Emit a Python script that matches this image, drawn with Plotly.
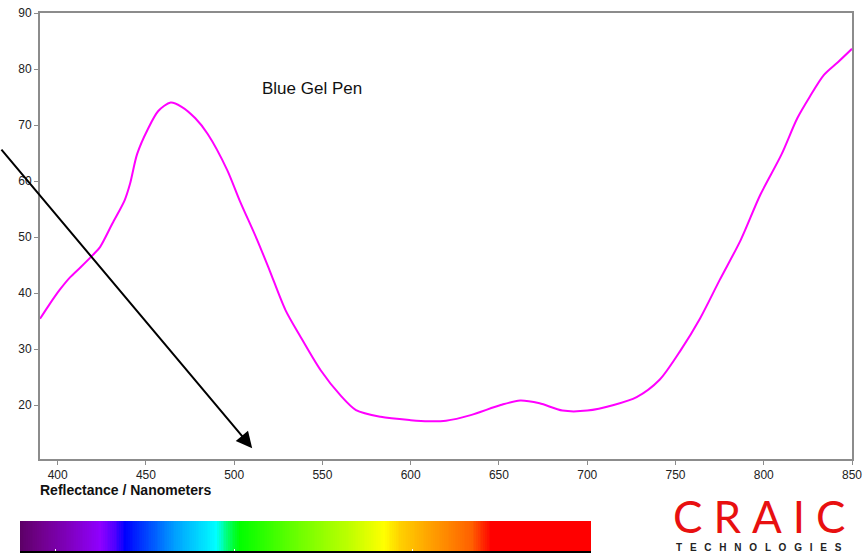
import plotly.graph_objects as go
import numpy as np

# ---- Data ----
wavelength_nm = [390, 395, 401, 407, 413, 420, 424, 431, 438, 441, 445, 451, 457, 464,
                 470, 478, 485, 496, 503, 513, 520, 529, 537, 549, 560, 569, 583, 600,
                 610, 620, 634, 651, 662, 673, 686, 700, 715, 728, 741, 753, 764, 775,
                 787, 798, 810, 819, 826, 834, 842, 850]
reflectance_pct = [35.4, 37.8, 40.5, 42.8, 44.6, 46.8, 48.2, 52.4, 56.6, 59.5, 64.8, 69.2,
                   72.5, 74.0, 73.3, 71.2, 68.4, 62.0, 56.6, 49.5, 44.1, 37.0, 32.5, 26.2,
                   21.8, 19.1, 17.9, 17.3, 17.1, 17.2, 18.2, 20.0, 20.8, 20.3, 19.0, 19.0,
                   20.0, 21.4, 24.5, 29.8, 35.5, 42.3, 49.5, 57.5, 64.7, 71.2, 75.0, 78.9,
                   81.2, 83.6]

x_ticks = [400, 450, 500, 550, 600, 650, 700, 750, 800, 850]
y_ticks = [20, 30, 40, 50, 60, 70, 80, 90]

# visible-spectrum colour bar (wavelength -> colour)
spectrum_nm = [380, 391, 408, 425, 433, 439, 453, 467, 490, 497, 503, 537, 565, 584,
               593, 616, 633, 644, 700]
spectrum_colors = ["#5c0066", "#70008a", "#8000c0", "#8f00ff", "#5000ff", "#0000ff",
                   "#0050ff", "#00a0ff", "#00ffff", "#00ff60", "#00ff00", "#70ff00",
                   "#c0ff00", "#ffff00", "#ffd000", "#ff9000", "#ff6000", "#ff0000",
                   "#ff0000"]
spectrum_ticks = [400, 500, 600]

sample_label = "Blue Gel Pen"
x_title = "Reflectance / Nanometers"
logo_word = "CRAIC"
logo_sub = "TECHNOLOGIES"

# ---- Figure ----
fig = go.Figure()

fig.add_trace(go.Scatter(
    x=wavelength_nm, y=reflectance_pct, mode="lines",
    line=dict(color="#ff00ff", width=2, shape="spline", smoothing=0.8),
    hoverinfo="x+y", showlegend=False,
))

lo, hi = spectrum_nm[0], spectrum_nm[-1]
colorscale = [[(w - lo) / (hi - lo), c] for w, c in zip(spectrum_nm, spectrum_colors)]
bar_x = np.arange(lo, hi + 1, 1.0)
fig.add_trace(go.Heatmap(
    x=bar_x, y=[0], z=[bar_x], colorscale=colorscale, zmin=lo, zmax=hi,
    showscale=False, xaxis="x2", yaxis="y2", hoverinfo="skip",
))

axis_font = dict(family="Liberation Sans, Arial, sans-serif", size=12, color="#222222")

fig.update_layout(
    width=863, height=553,
    margin=dict(l=20, r=11, t=13, b=0),
    paper_bgcolor="white", plot_bgcolor="white",
    font=axis_font,
    xaxis=dict(
        domain=[20 / 832, 1], range=[390, 850], tickvals=x_ticks,
        showgrid=False, zeroline=False,
        showline=True, linecolor="#8c8c8c", linewidth=2, mirror=True,
        ticks="outside", ticklen=4, tickcolor="#8c8c8c", tickwidth=1,
        tickfont=axis_font, anchor="y",
    ),
    yaxis=dict(
        domain=[(553 - 459) / 540, 1], range=[10.36, 90], tickvals=y_ticks,
        showgrid=False, zeroline=False,
        showline=True, linecolor="#8c8c8c", linewidth=2, mirror=True,
        ticks="outside", ticklen=4, tickcolor="#8c8c8c", tickwidth=1,
        tickfont=axis_font, anchor="x",
    ),
    xaxis2=dict(
        domain=[0, 571 / 832], range=[lo, hi], anchor="y2",
        tickvals=spectrum_ticks, showticklabels=False, showgrid=False, zeroline=False,
        showline=True, linecolor="black", linewidth=3,
        ticks="inside", ticklen=2, tickcolor="white", tickwidth=1,
    ),
    yaxis2=dict(
        domain=[(553 - 551) / 540, (553 - 521) / 540], range=[-0.5, 0.5], anchor="x2",
        showticklabels=False, showgrid=False, zeroline=False, showline=False,
    ),
    annotations=[
        dict(text=sample_label, x=544, y=76.6, xref="x", yref="y",
             showarrow=False, xanchor="center", yanchor="middle",
             font=dict(family="Liberation Sans, Arial, sans-serif", size=17, color="#111111")),
        dict(text="<b>" + x_title + "</b>", x=(38 - 20) / 832, y=(553 - 490) / 540,
             xref="paper", yref="paper", showarrow=False, xanchor="left", yanchor="middle",
             font=dict(family="Liberation Sans, Arial, sans-serif", size=14, color="#111111")),
        dict(text="", x=510.2, y=12.3, xref="x", yref="y",
             ax=-252, ay=-300, axref="pixel", ayref="pixel",
             showarrow=True, arrowhead=2, arrowsize=1.6, arrowwidth=2,
             arrowcolor="black", standoff=0),
        dict(text="\u2009\u2009".join(logo_word), x=(759 - 20) / 832, y=(553 - 516) / 540,
             xref="paper", yref="paper", showarrow=False, xanchor="center", yanchor="middle",
             font=dict(family="Lato, sans-serif", size=44, color="#e81010", weight=400)),
        dict(text="<b>" + " \u2002".join(logo_sub) + "</b>", x=(759 - 20) / 832,
             y=(553 - 547) / 540,
             xref="paper", yref="paper", showarrow=False, xanchor="center", yanchor="middle",
             font=dict(family="Liberation Sans, Arial, sans-serif", size=10, color="#222222")),
    ],
)

fig.write_html("out.html", config={"displayModeBar": False},
               post_script="document.body.style.margin='0';")
